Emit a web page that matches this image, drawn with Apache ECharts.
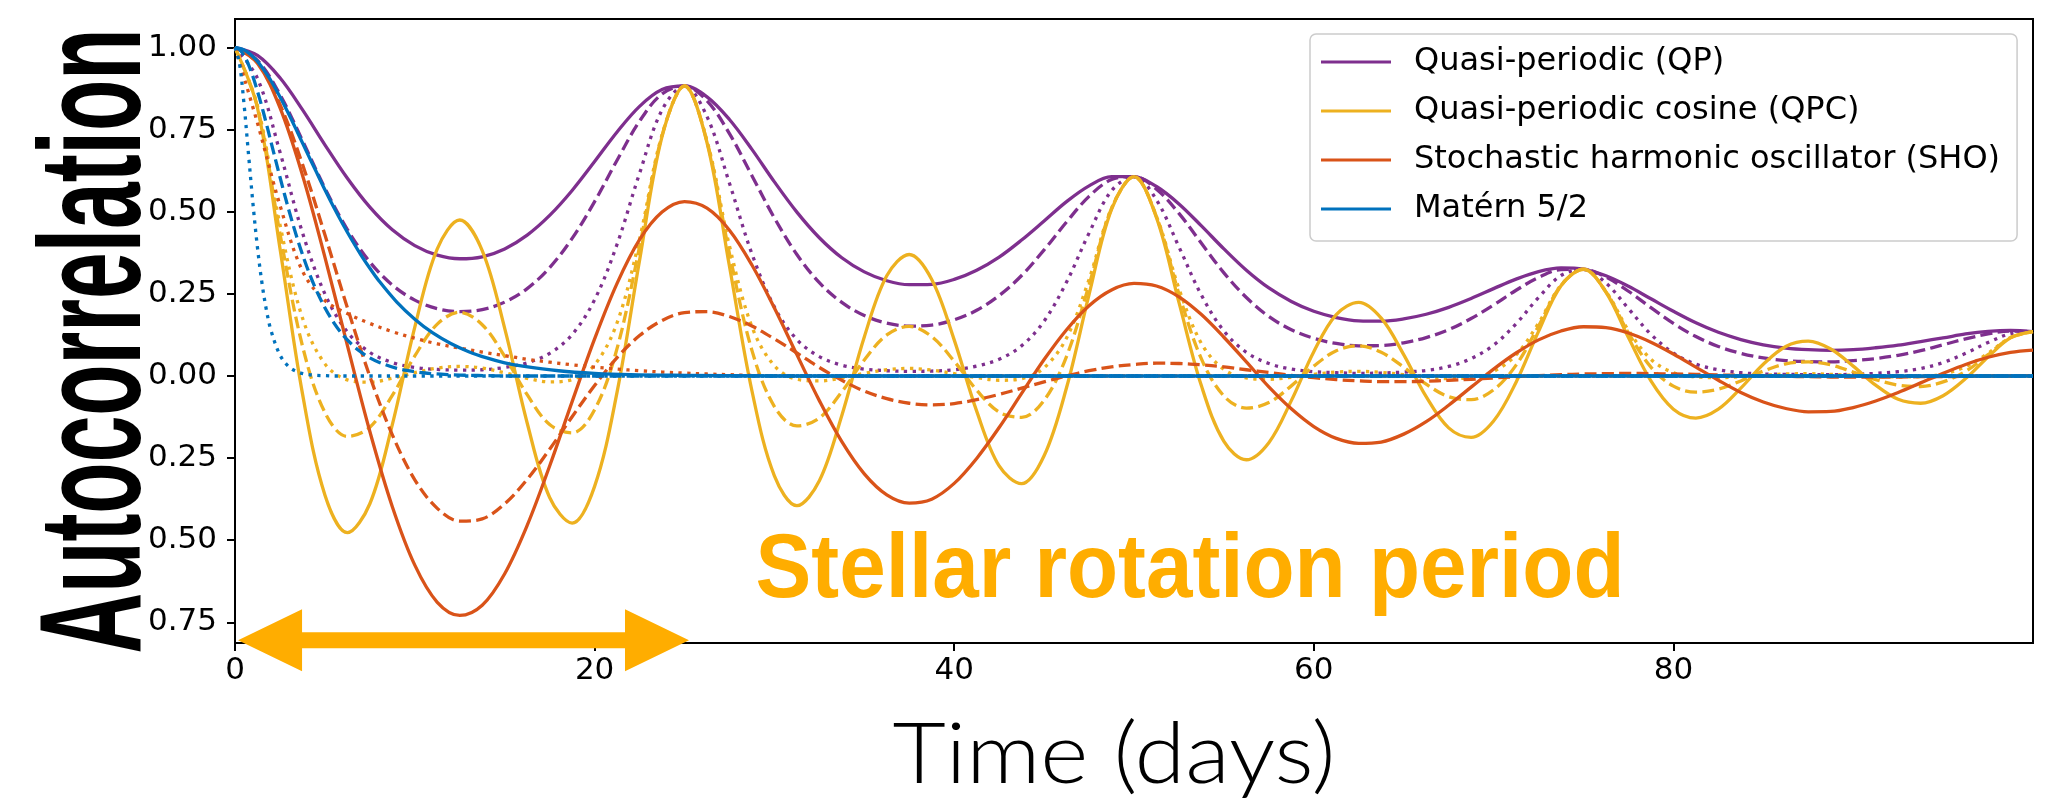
<!DOCTYPE html>
<html>
<head>
<meta charset="utf-8">
<script src="https://cdn.jsdelivr.net/npm/echarts@6/dist/echarts.min.js"></script>
<style>
html,body{margin:0;padding:0;background:#ffffff;}
#chart{width:2050px;height:807px;}
</style>
</head>
<body>
<div id="chart"></div>
<script>
// ---------------- data ----------------
const days = [0,1.25,2.5,3.75,5,6.25,7.5,8.75,10,11.25,12.5,13.75,15,16.25,17.5,18.75,20,21.25,22.5,23.75,
25,26.25,27.5,28.75,30,31.25,32.5,33.75,35,36.25,37.5,38.75,40,41.25,42.5,43.75,45,46.25,47.5,48.75,
50,51.25,52.5,53.75,55,56.25,57.5,58.75,60,61.25,62.5,63.75,65,66.25,67.5,68.75,70,71.25,72.5,73.75,
75,76.25,77.5,78.75,80,81.25,82.5,83.75,85,86.25,87.5,88.75,90,91.25,92.5,93.75,95,96.25,97.5,98.75,100];

const qpSolid = [1,.976,.908,.811,.704,.602,.514,.445,.397,.368,
.357,.363,.387,.429,.489,.565,.653,.743,.821,.872,
.883,.850,.781,.690,.591,.499,.421,.360,.317,.290,
.278,.279,.294,.322,.362,.414,.472,.531,.579,.607,
.607,.577,.524,.457,.387,.322,.268,.227,.197,.178,
.168,.167,.174,.188,.209,.236,.266,.295,.318,.329,
.325,.305,.273,.235,.197,.162,.133,.111,.095,.085,
.080,.078,.080,.086,.094,.105,.116,.128,.136,.139,.135];

const qpDashed = [1,.961,.857,.717,.572,.446,.347,.277,.231,.205,
.196,.202,.225,.266,.330,.419,.531,.657,.776,.859,
.883,.838,.738,.610,.481,.370,.284,.224,.184,.161,
.152,.155,.171,.200,.245,.306,.384,.469,.547,.598,
.607,.569,.495,.404,.314,.239,.181,.141,.115,.099,
.092,.093,.101,.117,.141,.175,.216,.261,.300,.324,
.325,.301,.258,.208,.160,.120,.090,.069,.055,.047,
.044,.043,.047,.053,.063,.077,.095,.113,.128,.137,.135];

const qpDotted = [1,.906,.682,.437,.250,.134,.072,.041,.026,.020,
.018,.019,.026,.040,.069,.126,.232,.401,.617,.810,
.883,.790,.587,.372,.210,.111,.059,.033,.021,.016,
.014,.015,.019,.030,.051,.092,.167,.286,.435,.564,
.607,.536,.393,.246,.137,.072,.038,.021,.013,.010,
.008,.009,.012,.017,.029,.053,.094,.159,.239,.306,
.325,.283,.205,.127,.070,.036,.019,.010,.006,.005,
.004,.004,.005,.008,.013,.023,.041,.069,.102,.129,.135];

const qpcSolid = [1,.816,.389,-.053,-.362,-.477,-.389,-.148,.149,.387,
.475,.382,.145,-.143,-.370,-.448,-.336,-.049,.352,.729,
.883,.711,.334,-.045,-.304,-.395,-.319,-.120,.119,.305,
.370,.294,.110,-.107,-.274,-.328,-.243,-.035,.248,.507,
.607,.482,.224,-.030,-.199,-.255,-.203,-.075,.074,.187,
.224,.176,.065,-.063,-.158,-.187,-.137,-.019,.136,.275,
.325,.255,.117,-.015,-.101,-.128,-.101,-.037,.036,.090,
.106,.082,.030,-.028,-.071,-.083,-.060,-.008,.058,.116,.135];

const qpcDashed = [1,.819,.434,.092,-.111,-.184,-.156,-.059,.061,.158,
.194,.156,.060,-.057,-.148,-.173,-.103,.084,.393,.732,
.883,.714,.373,.078,-.093,-.152,-.128,-.048,.049,.125,
.151,.120,.045,-.043,-.110,-.126,-.074,.060,.277,.510,
.607,.485,.250,.052,-.061,-.098,-.081,-.030,.030,.077,
.092,.072,.027,-.025,-.063,-.072,-.042,.033,.152,.276,
.325,.256,.131,.027,-.031,-.049,-.040,-.015,.015,.037,
.043,.034,.012,-.011,-.028,-.032,-.018,.014,.065,.117,.135];

const qpcDotted = [1,.822,.461,.177,.037,-.012,-.019,-.007,.010,.024,
.029,.024,.010,-.007,-.018,-.011,.034,.162,.417,.734,
.883,.716,.396,.150,.031,-.010,-.015,-.006,.008,.019,
.023,.018,.007,-.005,-.013,-.008,.025,.116,.294,.511,
.607,.486,.266,.099,.020,-.006,-.010,-.004,.005,.012,
.014,.011,.004,-.003,-.008,-.005,.014,.064,.161,.277,
.325,.257,.139,.051,.010,-.003,-.005,-.002,.002,.006,
.007,.005,.002,-.001,-.003,-.002,.006,.028,.069,.117,.135];

const shoSolid = [1,.952,.817,.612,.362,.093,-.169,-.398,-.576,-.689,
-.729,-.698,-.602,-.455,-.274,-.078,.113,.282,.415,.499,
.531,.511,.444,.338,.207,.065,-.075,-.200,-.298,-.362,
-.387,-.375,-.327,-.251,-.157,-.053,.050,.141,.214,.262,
.282,.274,.241,.187,.118,.043,-.033,-.100,-.154,-.190,
-.205,-.201,-.177,-.139,-.089,-.034,.021,.070,.110,.137,
.150,.147,.131,.103,.067,.027,-.013,-.050,-.079,-.099,
-.109,-.108,-.096,-.076,-.050,-.021,.008,.035,.057,.072,.079];

const shoDashed = [1,.954,.827,.645,.430,.208,-.001,-.179,-.316,-.403,
-.442,-.435,-.389,-.315,-.223,-.124,-.029,.056,.123,.169,
.193,.196,.181,.152,.113,.070,.026,-.013,-.046,-.069,
-.083,-.088,-.084,-.072,-.056,-.037,-.018,.000,.016,.028,
.035,.039,.038,.034,.028,.019,.011,.002,-.005,-.011,
-.015,-.017,-.017,-.016,-.013,-.010,-.006,-.002,.001,.004,
.006,.007,.008,.007,.006,.005,.003,.002,.000,-.001,
-.002,-.003,-.003,-.003,-.003,-.002,-.002,-.001,.000,.000,.001];

const shoDotted = [1,.77,.52,.32,.23,.19,.16,.135,.115,.098,
.085,.073,.062,.051,.042,.034,.027,.021,.016,.012,
.009,.006,.004,.002,.001,0,0,0,0,0,
0,0,0,0,0,0,0,0,0,0,
0,0,0,0,0,0,0,0,0,0,
0,0,0,0,0,0,0,0,0,0,
0,0,0,0,0,0,0,0,0,0,
0,0,0,0,0,0,0,0,0,0,0];

const maternDays = [0,0.25,0.5,0.75,1,1.25,1.5,1.75,2,2.5,3,3.5,4,4.5,5,5.5,6,6.5,7,7.5,8,
9,10,11,12,13,14,15,16,18,20,22,25,30,40,50,60,70,80,90,100];
const maternSolid = [1,.998,.993,.984,.972,.958,.940,.920,.899,.850,.796,.739,.681,.624,.567,.513,.462,.414,.369,.328,.290,
.225,.173,.131,.099,.074,.055,.040,.030,.016,.008,.004,.002,0,0,0,0,0,0,0,0];
const maternDashed = [1,.994,.976,.948,.911,.867,.819,.767,.713,.606,.504,.412,.332,.264,.208,.162,.125,.096,.073,.055,.042,
.023,.013,.007,.004,.002,.001,0,0,0,0,0,0,0,0,0,0,0,0,0,0];
const maternDotted = [1,.951,.829,.676,.524,.391,.283,.200,.139,.064,.028,.012,.005,.002,.001,0,0,0,0,0,0,
0,0,0,0,0,0,0,0,0,0,0,0,0,0,0,0,0,0,0,0];

const legendNames = ['Quasi-periodic (QP)','Quasi-periodic cosine (QPC)','Stochastic harmonic oscillator (SHO)','Matérn 5/2'];
const xTickValues = [0,20,40,60,80];
const xTickLabels = ['0','20','40','60','80'];
const yTickValues = [-0.75,-0.5,-0.25,0,0.25,0.5,0.75,1];
const yTickLabels = ['0.75','0.50','0.25','0.00','0.25','0.50','0.75','1.00'];
const arrowSpan = [0.17, 25.25];   // rotation period annotation (days)
const arrowLevel = -0.805;

// ---------------- styles ----------------
const COL = {qp:'#7E2F8E', qpc:'#EDB120', sho:'#D95319', mat:'#0072BD'};
const LW = 3.3;
const DASH = {solid:'solid', dashed:[12,5.3], dotted:[3.3,5.4]};
const ORANGE = '#FFAD00';

function line(name, xs, ys, color, dash){
  return {
    type:'line', name:name, data: xs.map((x,i)=>[x, ys[i]]),
    showSymbol:false, symbol:'none', smooth:0.35, silent:true, animation:false,
    clip:true,
    lineStyle:{color:color, width:LW, type:dash, cap:'butt', join:'round'},
    itemStyle:{color:color},
    emphasis:{disabled:true}
  };
}

const series = [
  line(legendNames[0], days, qpSolid, COL.qp, DASH.solid),
  line('QP dashed', days, qpDashed, COL.qp, DASH.dashed),
  line('QP dotted', days, qpDotted, COL.qp, DASH.dotted),
  line(legendNames[1], days, qpcSolid, COL.qpc, DASH.solid),
  line('QPC dashed', days, qpcDashed, COL.qpc, DASH.dashed),
  line('QPC dotted', days, qpcDotted, COL.qpc, DASH.dotted),
  line(legendNames[2], days, shoSolid, COL.sho, DASH.solid),
  line('SHO dashed', days, shoDashed, COL.sho, DASH.dashed),
  line('SHO dotted', days, shoDotted, COL.sho, DASH.dotted),
  line(legendNames[3], maternDays, maternSolid, COL.mat, DASH.solid),
  line('Matern dashed', maternDays, maternDashed, COL.mat, DASH.dashed),
  line('Matern dotted', maternDays, maternDotted, COL.mat, DASH.dotted)
];

// text width fitting helper
const mctx = document.createElement('canvas').getContext('2d');
function fit(text, font, target){ mctx.font = font; return target / mctx.measureText(text).width; }

const fontAuto = 'bold 145px "Liberation Sans", Arial, sans-serif';
const fontStellar = 'bold 91px "Liberation Sans", Arial, sans-serif';
const fontTime = '300 84px Lato, "Liberation Sans", sans-serif';

const chart = echarts.init(document.getElementById('chart'), null, {renderer:'canvas', width:2050, height:807});

const option = {
  animation:false,
  backgroundColor:'#ffffff',
  grid:{left:235, top:19, width:1798, height:624, show:true, borderColor:'#000', borderWidth:2, backgroundColor:'transparent', containLabel:false},
  xAxis:{
    type:'value', min:0, max:100,
    axisLine:{show:true, onZero:false, lineStyle:{color:'#000', width:2}},
    axisTick:{show:true, customValues:xTickValues, length:8, lineStyle:{color:'#000', width:2}},
    axisLabel:{show:true, customValues:xTickValues, margin:12, color:'#000', fontFamily:'DejaVu Sans', fontSize:31,
      formatter:(v)=>{const i=xTickValues.indexOf(v); return i>=0?xTickLabels[i]:'';}},
    splitLine:{show:false}
  },
  yAxis:{
    type:'value', min:-0.813, max:1.087,
    axisLine:{show:true, onZero:false, lineStyle:{color:'#000', width:2}},
    axisTick:{show:true, customValues:yTickValues, length:8, lineStyle:{color:'#000', width:2}},
    axisLabel:{show:true, customValues:yTickValues, margin:18, color:'#000', fontFamily:'DejaVu Sans', fontSize:31,
      formatter:(v)=>{let i=-1; yTickValues.forEach((t,k)=>{if(Math.abs(t-v)<1e-6)i=k;}); return i>=0?yTickLabels[i]:'';}},
    splitLine:{show:false}
  },
  legend:{
    data:legendNames, orient:'vertical', left:1310, top:34,
    itemWidth:70, itemHeight:3, itemGap:17, icon:'rect', selectedMode:false,
    padding:[12,17,16,11],
    backgroundColor:'rgba(255,255,255,0.8)', borderColor:'#cccccc', borderWidth:1.5, borderRadius:6,
    textStyle:{fontFamily:'DejaVu Sans', fontSize:32, color:'#000', lineHeight:30, padding:[0,0,0,18]}
  },
  series:series
};
chart.setOption(option);

// annotation: arrow + texts
const pL = chart.convertToPixel({gridIndex:0}, [arrowSpan[0], arrowLevel]);
const pR = chart.convertToPixel({gridIndex:0}, [arrowSpan[1], arrowLevel]);
const yc = pL[1], hl = 64, hh = 31, sh = 8;
const arrowPts = [
  [pL[0], yc], [pL[0]+hl, yc-hh], [pL[0]+hl, yc-sh], [pR[0]-hl, yc-sh], [pR[0]-hl, yc-hh],
  [pR[0], yc], [pR[0]-hl, yc+hh], [pR[0]-hl, yc+sh], [pL[0]+hl, yc+sh], [pL[0]+hl, yc+hh]
];

chart.setOption({
  graphic:[
    {type:'polygon', id:'arrow', z:100, shape:{points:arrowPts}, style:{fill:ORANGE}},
    {type:'text', id:'stellar', z:100, x:1190, y:572, scaleX:fit('Stellar rotation period', fontStellar, 869),
      style:{text:'Stellar rotation period', font:fontStellar, fill:ORANGE, align:'center', verticalAlign:'middle'}},
    {type:'text', id:'ylab', z:100, x:100, y:341, rotation:Math.PI/2, scaleX:fit('Autocorrelation', fontAuto, 625),
      style:{text:'Autocorrelation', font:fontAuto, fill:'#000', align:'center', verticalAlign:'middle'}},
    {type:'text', id:'xlab', z:100, x:1114, y:756, scaleX:fit('Time (days)', fontTime, 443),
      style:{text:'Time (days)', font:fontTime, fill:'#000', align:'center', verticalAlign:'middle'}}
  ]
});
</script>
</body>
</html>
